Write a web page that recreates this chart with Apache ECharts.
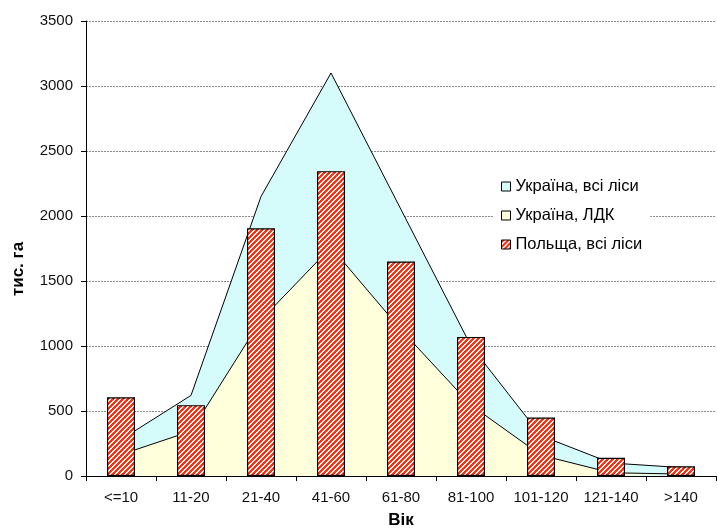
<!DOCTYPE html>
<html>
<head>
<meta charset="utf-8">
<script src="https://cdn.jsdelivr.net/npm/echarts@6/dist/echarts.min.js"></script>
<style>
  html, body { margin: 0; padding: 0; background: #fff; }
  #chart { width: 717px; height: 532px; }
</style>
</head>
<body>
<div id="chart"></div>
<script>
// Forest area by age class, thousand ha
const ageGroups = ['<=10', '11-20', '21-40', '41-60', '61-80', '81-100', '101-120', '121-140', '>140'];
const ukraineAll = [280, 620, 2150, 3100, 2050, 1000, 310, 100, 65];
const ukraineLdk = [165, 345, 1200, 1760, 1125, 545, 160, 25, 15];
const polandAll = [605, 545, 1905, 2345, 1650, 1070, 450, 140, 75];
const yTickValues = [0, 500, 1000, 1500, 2000, 2500, 3000, 3500];

const seriesNames = ['Україна, всі ліси', 'Україна, ЛДК', 'Польща, всі ліси'];

// diagonal red/white hatch used for the Poland columns
function hatchPattern() {
  const c = document.createElement('canvas');
  c.width = 5; c.height = 5;
  const g = c.getContext('2d');
  g.fillStyle = '#ffffff';
  g.fillRect(0, 0, 5, 5);
  g.fillStyle = '#ff3010';
  for (let x = 0; x < 5; x++) {
    for (let y = 0; y < 5; y++) {
      if ((x + y) % 5 < 3) g.fillRect(x, y, 1, 1);
    }
  }
  return { image: c, repeat: 'repeat' };
}

const hatch = hatchPattern();
const blueFill = '#d5fbfb';
const yellowFill = '#ffffdc';
const font = '"Liberation Sans", Arial, sans-serif';

const chart = echarts.init(document.getElementById('chart'), null, { renderer: 'canvas' });

chart.setOption({
  animation: false,
  backgroundColor: '#ffffff',
  grid: { left: 86, right: 1, top: 21, bottom: 56, containLabel: false, outerBoundsMode: 'none' },
  legend: {
    orient: 'vertical',
    left: 493,
    top: 172,
    backgroundColor: '#ffffff',
    padding: [6, 8, 6, 8],
    itemWidth: 9,
    itemHeight: 9,
    itemGap: 12,
    icon: 'rect',
    textStyle: { fontFamily: font, fontSize: 16.5, color: '#000' },
    data: [
      { name: seriesNames[0], itemStyle: { color: blueFill, borderColor: '#000', borderWidth: 1 } },
      { name: seriesNames[1], itemStyle: { color: yellowFill, borderColor: '#000', borderWidth: 1 } },
      { name: seriesNames[2], itemStyle: { color: hatch, borderColor: '#000', borderWidth: 1 } }
    ]
  },
  xAxis: {
    type: 'category',
    data: ageGroups,
    boundaryGap: true,
    name: 'Вік',
    nameLocation: 'middle',
    nameGap: 36,
    nameTextStyle: { fontFamily: font, fontSize: 17, fontWeight: 'bold', color: '#000' },
    axisLine: { lineStyle: { color: '#000', width: 1 } },
    axisTick: { show: true, alignWithLabel: false, length: 5, inside: false, lineStyle: { color: '#000' } },
    axisLabel: { interval: 0, fontFamily: font, fontSize: 15, color: '#111', margin: 14 },
    splitLine: { show: false }
  },
  yAxis: {
    type: 'value',
    min: yTickValues[0],
    max: yTickValues[yTickValues.length - 1],
    interval: 500,
    axisLine: { show: true, lineStyle: { color: '#000', width: 1 } },
    axisTick: { show: true, length: 5, lineStyle: { color: '#000' } },
    axisLabel: {
      fontFamily: font, fontSize: 15, color: '#111', margin: 13,
      formatter: function (v) { return String(v); }
    },
    splitLine: { show: true, lineStyle: { color: '#8a8a8a', type: [2, 1], width: 1 } }
  },
  graphic: [
    {
      type: 'text',
      x: 18,
      y: 269,
      rotation: Math.PI / 2,
      style: {
        text: 'тис. га',
        font: 'bold 17px ' + font,
        fill: '#000',
        align: 'center',
        verticalAlign: 'middle'
      }
    }
  ],
  series: [
    {
      name: seriesNames[0],
      type: 'line',
      data: ukraineAll,
      symbol: 'none',
      z: 1,
      itemStyle: { color: blueFill },
      lineStyle: { color: '#000', width: 1 },
      areaStyle: { color: blueFill, opacity: 1 }
    },
    {
      name: seriesNames[1],
      type: 'line',
      data: ukraineLdk,
      symbol: 'none',
      z: 2,
      itemStyle: { color: yellowFill },
      lineStyle: { color: '#000', width: 1 },
      areaStyle: { color: yellowFill, opacity: 1 }
    },
    {
      name: seriesNames[2],
      type: 'bar',
      data: polandAll,
      barWidth: '40%',
      z: 3,
      itemStyle: { color: hatch, borderColor: '#000', borderWidth: 1.2 }
    }
  ]
});
</script>
</body>
</html>
